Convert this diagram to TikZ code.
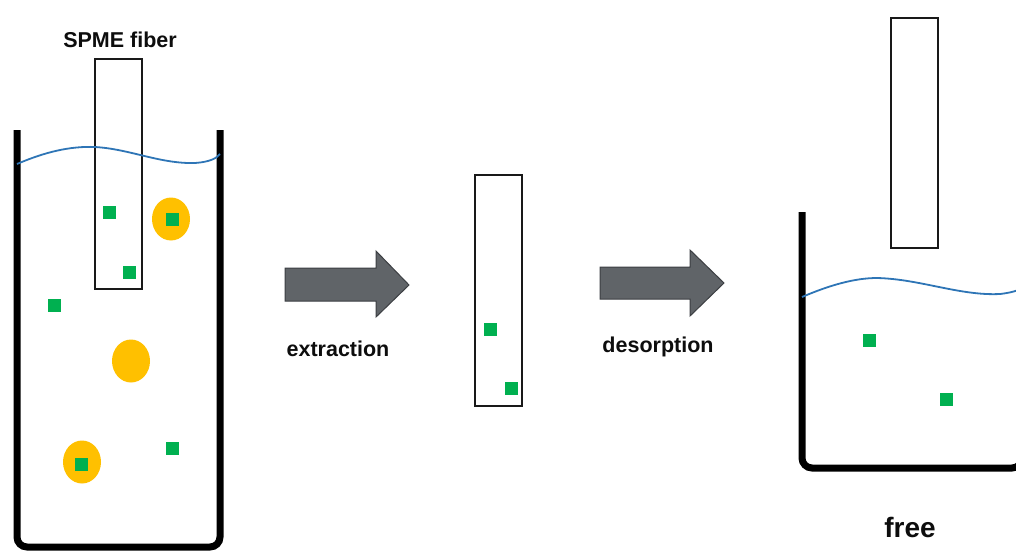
\documentclass[tikz,border=0pt]{standalone}
\usepackage{fontspec}
\setmainfont{Liberation Sans}
\usetikzlibrary{shapes.geometric}
\definecolor{analyte}{HTML}{00B050}
\definecolor{matrix}{HTML}{FFC000}
\definecolor{water}{HTML}{2E75B6}
\definecolor{arrowgray}{HTML}{606468}
\definecolor{arrowedge}{HTML}{3C3F43}
\tikzset{
  beaker/.style={line width=7pt, black, rounded corners=10pt},
  fiber/.style={draw=black!90, line width=1.4pt, fill=white},
  surface/.style={draw=water, line width=1.8pt},
  molecule/.style={rectangle, fill=analyte, minimum size=13pt, inner sep=0pt},
  particle/.style={ellipse, fill=matrix, minimum width=38pt, minimum height=43pt, inner sep=0pt},
  label/.style={font=\bfseries\fontsize{21.5}{26}\selectfont, text=black!95, inner sep=0pt},
  bigarrow/.style={fill=arrowgray, draw=arrowedge, line width=1pt, line join=miter}
}
\begin{document}
\begin{tikzpicture}[x=1pt, y=-1pt]
\useasboundingbox (0,0) rectangle (1016,552);
\begin{scope}
\clip (0,0) rectangle (1016,552);

% ---- sample vial with fiber immersed ----
\draw[beaker] (17,130) -- (17,547) -- (220,547) -- (220,130);
\draw[fiber] (95,59) rectangle (142,289);
\draw[surface] (17,164) .. controls (45,152) and (70,146) .. (95,147)
  .. controls (130,149) and (160,164) .. (195,163)
  .. controls (210,162) and (217,158) .. (220,154);
\node[particle] (p1) at (171,219) {};
\node[particle] (p2) at (131,361) {};
\node[particle] (p3) at (82,462) {};
\node[molecule] (m1) at (109,212) {};
\node[molecule] (m2) at (129,272) {};
\node[molecule] (m3) at (172,219) {};
\node[molecule] (m4) at (54,305) {};
\node[molecule] (m5) at (81,464) {};
\node[molecule] (m6) at (172,448) {};
\node[label] (fiberlabel) at (120,40) {SPME fiber};

% ---- extraction arrow ----
\draw[bigarrow] (285,268) -- (376,268) -- (376,251) -- (409,285) -- (376,317)
  -- (376,301) -- (285,301) -- cycle;
\node[label] (extr) at (338,349) {extraction};

% ---- loaded fiber ----
\draw[fiber] (475,175) rectangle (522,406);
\node[molecule] (m7) at (490,329) {};
\node[molecule] (m8) at (511,388) {};

% ---- desorption arrow ----
\draw[bigarrow] (600,267) -- (690,267) -- (690,250) -- (724,283) -- (690,316)
  -- (690,299) -- (600,299) -- cycle;
\node[label] (desorb) at (658,347) {desorption};

% ---- desorption vial ----
\draw[fiber] (891,18) rectangle (938,248);
\draw[beaker] (802,212) -- (802,468) -- (1022,468) -- (1022,212);
\draw[surface] (802,297) .. controls (830,285) and (855,278) .. (877,278)
  .. controls (920,279) and (960,296) .. (1000,294)
  .. controls (1008,293) and (1013,292) .. (1018,290);
\node[molecule] (m9) at (869,340) {};
\node[molecule] (m10) at (946,399) {};
\node[label, font=\bfseries\fontsize{28}{32}\selectfont] (freelabel) at (910,527) {free};
\end{scope}
\end{tikzpicture}
\end{document}
